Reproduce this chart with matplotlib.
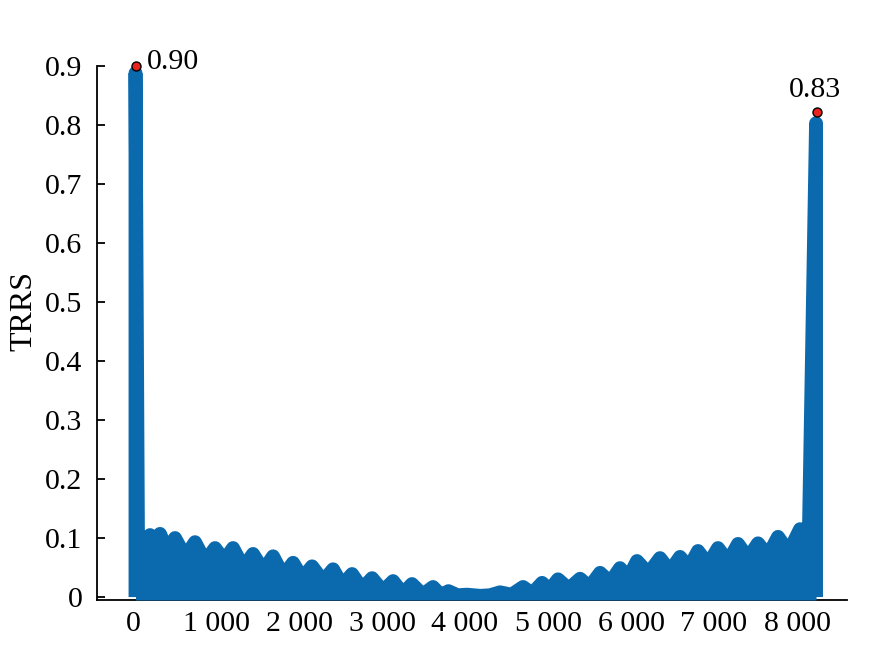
import numpy as np
import matplotlib
matplotlib.use("Agg")
import matplotlib.pyplot as plt

# envelope of the TRRS trace (centre of the thick line)
env_x = [30, 30, 60, 205, 265, 325, 420, 506, 630, 747, 870, 988, 1100, 1205,
         1330, 1446, 1570, 1687, 1810, 1928, 2040, 2157, 2290, 2410, 2520, 2639,
         2760, 2880, 3010, 3133, 3250, 3361, 3490, 3614, 3710, 3800, 3910, 4024,
         4181, 4300, 4422, 4560, 4699, 4810, 4928, 5020, 5120, 5250, 5386, 5500,
         5627, 5750, 5867, 5970, 6072, 6210, 6349, 6470, 6590, 6700, 6807, 6930,
         7048, 7170, 7289, 7410, 7530, 7650, 7771, 7900, 8036, 8140, 8229, 8229]
env_y = [0.0, 0.888, 0.080, 0.105, 0.085, 0.107, 0.076, 0.100, 0.068, 0.093,
         0.060, 0.083, 0.062, 0.083, 0.050, 0.073, 0.045, 0.069, 0.036, 0.058,
         0.032, 0.052, 0.027, 0.047, 0.020, 0.039, 0.014, 0.032, 0.010, 0.027,
         0.006, 0.022, 0.004, 0.017, 0.003, 0.010, 0.003, 0.004, 0.002, 0.003,
         0.008, 0.004, 0.017, 0.006, 0.024, 0.012, 0.030, 0.014, 0.031, 0.017,
         0.041, 0.025, 0.049, 0.033, 0.061, 0.040, 0.066, 0.044, 0.068, 0.050,
         0.078, 0.055, 0.083, 0.060, 0.090, 0.066, 0.091, 0.070, 0.102, 0.076,
         0.115, 0.082, 0.803, 0.0]

# marked maxima
peak_x = [30, 8240]
peak_y = [0.90, 0.822]
peak_labels = ["0.90", "0.83"]

xticks = [0, 1000, 2000, 3000, 4000, 5000, 6000, 7000, 8000]
xtick_labels = ["0", "1 000", "2 000", "3 000", "4 000", "5 000", "6 000", "7 000", "8 000"]
yticks = [0, 0.1, 0.2, 0.3, 0.4, 0.5, 0.6, 0.7, 0.8, 0.9]

plt.rcParams['font.family'] = ['Liberation Serif', 'DejaVu Serif']
blue = '#0b6aae'
fs = 21.5

fig = plt.figure(figsize=(8.88, 6.46), dpi=100)
ax = fig.add_axes([97 / 888, 46 / 646, 750 / 888, 534 / 646])

ax.fill_between(env_x, -0.005, env_y, color=blue, lw=0, zorder=3)
ax.plot(env_x, env_y, color=blue, lw=10, solid_joinstyle='round',
        solid_capstyle='butt', zorder=3)

ax.plot(peak_x, peak_y, 'o', color='#e8231d', mec='black', mew=1.0, ms=6.5,
        zorder=5, clip_on=False)
ax.annotate(peak_labels[0], (peak_x[0], peak_y[0]), xytext=(8, 3),
            textcoords='offset points', ha='left', va='center', fontsize=fs)
ax.annotate(peak_labels[1], (peak_x[1], peak_y[1]), xytext=(-1.5, 15.5),
            textcoords='offset points', ha='center', va='center', fontsize=fs)

ax.set_xlim(-434, 8602)
ax.set_ylim(-0.005, 0.9)
ax.set_xticks(xticks)
ax.set_xticklabels(xtick_labels)
ax.set_yticks(yticks)
ax.set_yticklabels(["0", "0.1", "0.2", "0.3", "0.4", "0.5", "0.6", "0.7", "0.8", "0.9"])
ax.tick_params(axis='y', direction='in', length=6, width=1.3, pad=10.5, labelsize=fs)
ax.tick_params(axis='x', length=0, pad=8, labelsize=fs)
ax.set_ylabel("TRRS", fontsize=23)
ax.yaxis.set_label_coords(-0.078, 0.541)

for s in ['top', 'right']:
    ax.spines[s].set_visible(False)
for s in ['left', 'bottom']:
    ax.spines[s].set_linewidth(1.3)

fig.savefig("out.png", dpi=100)
